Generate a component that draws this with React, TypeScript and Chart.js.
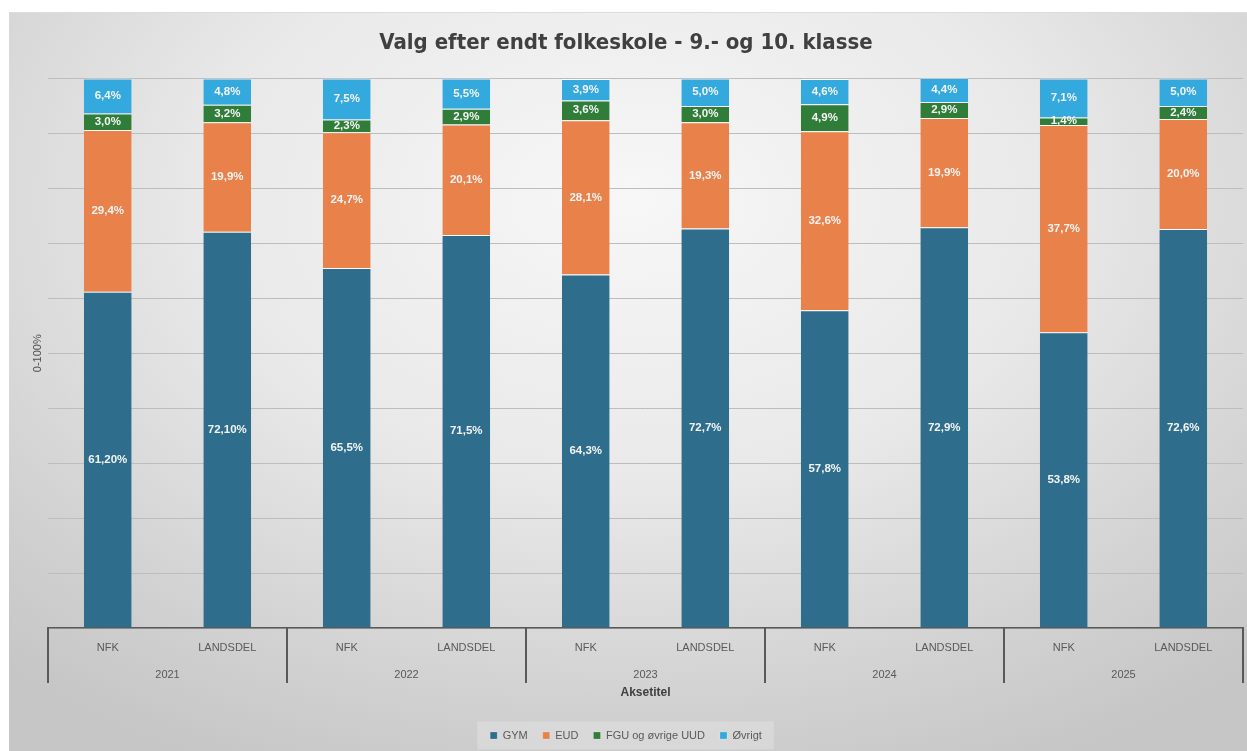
import React, { useEffect, useRef } from "react";
import { Chart, registerables } from "chart.js";

Chart.register(...registerables);

const groups = ["NFK", "LANDSDEL"];
const years = ["2021", "2022", "2023", "2024", "2025"];
const categories = years.flatMap(() => groups);

const gym = [61.2, 72.1, 65.5, 71.5, 64.3, 72.7, 57.8, 72.9, 53.8, 72.6];
const eud = [29.4, 19.9, 24.7, 20.1, 28.1, 19.3, 32.6, 19.9, 37.7, 20.0];
const fgu = [3.0, 3.2, 2.3, 2.9, 3.6, 3.0, 4.9, 2.9, 1.4, 2.4];
const ovrigt = [6.4, 4.8, 7.5, 5.5, 3.9, 5.0, 4.6, 4.4, 7.1, 5.0];
const gymDigits = [2, 2, 1, 1, 1, 1, 1, 1, 1, 1];

const seriesNames = ["GYM", "EUD", "FGU og øvrige UUD", "Øvrigt"];
const seriesColors = ["#2e6e8c", "#e8814a", "#2f7d38", "#33a9de"];

const TEXT = "#595959";

const labelPlugin = {
  id: "segLabels",
  afterDatasetsDraw(chart: any) {
    const ctx = chart.ctx;
    ctx.save();
    ctx.font = "bold 11.5px 'Liberation Sans', Arial, sans-serif";
    ctx.fillStyle = "#f4f4f4";
    ctx.textAlign = "center";
    ctx.textBaseline = "middle";
    chart.data.datasets.forEach((ds: any, di: number) => {
      const meta = chart.getDatasetMeta(di);
      meta.data.forEach((bar: any, i: number) => {
        const v = ds.data[i];
        const digits = di === 0 ? gymDigits[i] : 1;
        const txt = v.toFixed(digits).replace(".", ",") + "%";
        ctx.fillText(txt, bar.x, (bar.y + bar.base) / 2);
      });
    });
    ctx.restore();
  },
};

const groupAxisPlugin = {
  id: "groupAxis",
  afterDraw(chart: any) {
    const ctx = chart.ctx;
    const xs = chart.scales.x;
    const step = xs.getPixelForValue(1) - xs.getPixelForValue(0);
    const top = chart.chartArea.bottom;
    ctx.save();
    ctx.strokeStyle = TEXT;
    ctx.lineWidth = 2;
    for (let g = 0; g <= years.length; g++) {
      const px = Math.round(xs.getPixelForValue(g * groups.length) - step / 2);
      ctx.beginPath();
      ctx.moveTo(px, top);
      ctx.lineTo(px, top + 55);
      ctx.stroke();
    }
    ctx.font = "11px 'Liberation Sans', Arial, sans-serif";
    ctx.fillStyle = TEXT;
    ctx.textAlign = "center";
    ctx.textBaseline = "middle";
    years.forEach((y, g) => {
      const a = xs.getPixelForValue(g * groups.length);
      const b = xs.getPixelForValue(g * groups.length + groups.length - 1);
      ctx.fillText(y, (a + b) / 2, top + 47);
    });
    ctx.restore();
  },
};

const legendBgPlugin = {
  id: "legendBg",
  beforeDraw(chart: any) {
    const lg = chart.legend;
    if (!lg || !lg.legendHitBoxes || !lg.legendHitBoxes.length) return;
    const boxes = lg.legendHitBoxes;
    const l = Math.min(...boxes.map((b: any) => b.left)) - 13;
    const r = Math.max(...boxes.map((b: any) => b.left + b.width)) + 12;
    const cy = boxes[0].top + boxes[0].height / 2;
    const ctx = chart.ctx;
    ctx.save();
    ctx.fillStyle = "rgba(255,255,255,0.22)";
    ctx.fillRect(l, cy - 14, r - l, 28);
    ctx.restore();
  },
};

export default function App() {
  const ref = useRef<HTMLCanvasElement | null>(null);
  useEffect(() => {
    if (!ref.current) return;
    const all = [gym, eud, fgu, ovrigt];
    const chart = new Chart(ref.current, {
      type: "bar",
      data: {
        labels: categories,
        datasets: all.map((d, i) => ({
          label: seriesNames[i],
          data: d,
          backgroundColor: seriesColors[i],
          borderColor: "rgba(255,255,255,0.75)",
          borderWidth: { top: 1, bottom: 0, left: 0, right: 0 },
          borderSkipped: false,
          barPercentage: 1,
          categoryPercentage: 0.4,
        })),
      },
      options: {
        animation: false,
        responsive: false,
        layout: { padding: { left: 0, right: 4, top: 0, bottom: 0 } },
        scales: {
          x: {
            stacked: true,
            grid: { display: false, drawTicks: false },
            border: { display: true, color: TEXT, width: 1.5 },
            ticks: {
              color: TEXT,
              padding: 13,
              font: { family: "'Liberation Sans', Arial, sans-serif", size: 11 },
              maxRotation: 0,
              autoSkip: false,
            },
            title: {
              display: true,
              text: "Aksetitel",
              color: "#404040",
              font: { family: "'Liberation Sans', Arial, sans-serif", size: 12, weight: "bold" },
              padding: { top: 0, bottom: 15 },
            },
            afterFit(scale: any) {
              scale.height = 87;
            },
          },
          y: {
            stacked: true,
            min: 0,
            max: 100,
            ticks: { display: false, stepSize: 10 },
            grid: { color: "#bdbdbd", lineWidth: 1, drawTicks: false },
            border: { display: false },
            title: {
              display: true,
              text: "0-100%",
              color: "#505050",
              font: { family: "'Liberation Sans', Arial, sans-serif", size: 11 },
              padding: { top: 22, bottom: 0 },
            },
            afterFit(scale: any) {
              scale.width = 39;
            },
          },
        },
        plugins: {
          title: {
            display: true,
            text: "Valg efter endt folkeskole - 9.- og 10. klasse",
            color: "#404040",
            font: { family: "'DejaVu Sans Condensed', 'Liberation Sans Narrow', sans-serif", size: 22, weight: "bold" },
            padding: { top: 17, bottom: 22 },
          },
          legend: {
            position: "bottom",
            labels: {
              boxWidth: 7,
              boxHeight: 7,
              padding: 15,
              color: TEXT,
              font: { family: "'Liberation Sans', Arial, sans-serif", size: 11 },
            },
          },
          tooltip: { enabled: false },
        },
      },
      plugins: [labelPlugin, groupAxisPlugin, legendBgPlugin],
    } as any);
    return () => chart.destroy();
  }, []);

  return (
    <div
      style={{
        position: "absolute",
        left: 9,
        top: 12,
        width: 1238,
        height: 739,
        background:
          "radial-gradient(ellipse 75% 85% at 50% 25%, #f7f7f7 0%, #e9e9e9 45%, #d2d2d2 80%, #c6c6c6 100%)",
        borderTop: "1px solid #dcdcdc",
        boxSizing: "border-box",
      }}
    >
      <canvas ref={ref} width={1238} height={738} style={{ display: "block" }} />
    </div>
  );
}
